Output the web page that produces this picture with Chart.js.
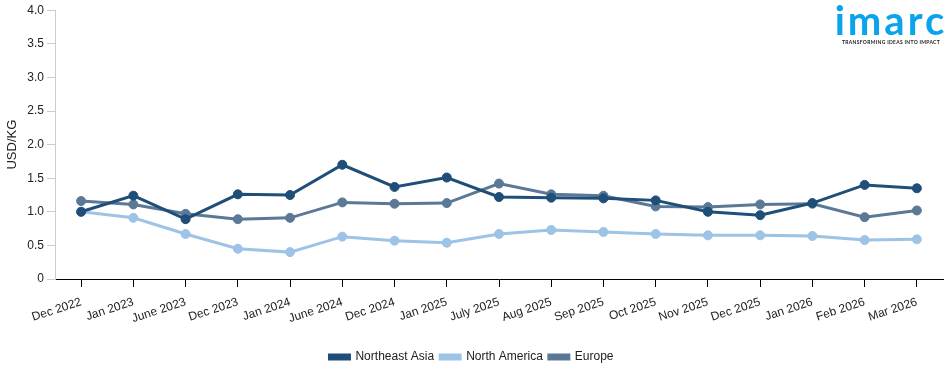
<!DOCTYPE html>
<html>
<head>
<meta charset="utf-8">
<script src="https://cdn.jsdelivr.net/npm/chart.js@4"></script>
<style>
  html, body { margin: 0; padding: 0; background: #fff; }
  #wrap { position: relative; width: 950px; height: 373px; }
  #logo { position: absolute; left: 834px; top: 2px; width: 114px; text-align: center; font-family: "Lato", "Liberation Sans", sans-serif; color: #0aa4ec; }
  #logo .name { font-size: 40px; font-weight: 700; line-height: 36px; letter-spacing: 3px; }
  #logo .tag { font-size: 5px; font-weight: 700; color: #222; letter-spacing: 0.3px; margin-top: 1px; white-space: nowrap; }
</style>
</head>
<body>
<div id="wrap">
  <canvas id="myChart" width="950" height="373"></canvas>
  <div id="logo"><div class="name">imarc</div><div class="tag">TRANSFORMING IDEAS INTO IMPACT</div></div>
</div>
<script>
const labels = ['Dec 2022', 'Jan 2023', 'June 2023', 'Dec 2023', 'Jan 2024', 'June 2024', 'Dec 2024', 'Jan 2025', 'July 2025', 'Aug 2025', 'Sep 2025', 'Oct 2025', 'Nov 2025', 'Dec 2025', 'Jan 2026', 'Feb 2026', 'Mar 2026'];
const northeastAsia = [1.00, 1.24, 0.89, 1.26, 1.25, 1.70, 1.37, 1.51, 1.22, 1.21, 1.20, 1.17, 1.00, 0.95, 1.13, 1.40, 1.35];
const northAmerica = [1.00, 0.91, 0.67, 0.45, 0.40, 0.63, 0.57, 0.54, 0.67, 0.73, 0.70, 0.67, 0.65, 0.65, 0.64, 0.58, 0.59];
const europe = [1.16, 1.11, 0.97, 0.89, 0.91, 1.14, 1.12, 1.13, 1.42, 1.26, 1.24, 1.08, 1.07, 1.11, 1.12, 0.92, 1.02];
const yTicks = [0, 0.5, 1.0, 1.5, 2.0, 2.5, 3.0, 3.5, 4.0];

function series(label, data, color) {
  return {
    label: label,
    data: data,
    borderColor: color,
    backgroundColor: color,
    borderWidth: 3,
    pointRadius: 4.5,
    pointBorderWidth: 1,
    pointHoverRadius: 4.5,
    tension: 0
  };
}

const ctx = document.getElementById('myChart');
new Chart(ctx, {
  type: 'line',
  data: {
    labels: labels,
    datasets: [
      series('Northeast Asia', northeastAsia, '#1f4e79'),
      series('North America', northAmerica, '#9dc3e6'),
      series('Europe', europe, '#5b7896')
    ]
  },
  options: {
    responsive: false,
    animation: false,
    layout: { padding: { top: 4, right: 7, left: 0, bottom: 0 } },
    plugins: {
      tooltip: { enabled: false },
      legend: {
        position: 'bottom',
        labels: {
          boxWidth: 20,
          boxHeight: 4,
          padding: 6,
          color: '#222',
          font: { family: 'Liberation Sans', size: 12 }
        }
      }
    },
    scales: {
      x: {
        offset: true,
        grid: { display: true, drawOnChartArea: false, drawTicks: true, tickLength: 8, color: '#000' },
        border: { color: '#000', width: 1 },
        ticks: {
          minRotation: 18,
          maxRotation: 18,
          autoSkip: false,
          padding: 8,
          color: '#222',
          font: { family: 'Liberation Sans', size: 12 }
        },
        afterFit: function (scale) { scale.height = 66; }
      },
      y: {
        min: 0,
        max: 4,
        afterBuildTicks: function (scale) { scale.ticks = yTicks.map(v => ({ value: v })); },
        grid: { display: true, drawOnChartArea: false, tickLength: 8, color: '#ccc' },
        border: { color: '#ccc', width: 1 },
        ticks: {
          color: '#222',
          font: { family: 'Liberation Sans', size: 12 },
          callback: function (v) { return v === 0 ? '0' : v.toFixed(1); }
        },
        title: {
          display: true,
          text: 'USD/KG',
          color: '#222',
          font: { family: 'Liberation Sans', size: 13 },
          padding: { top: 5, bottom: 2 }
        },
        afterFit: function (scale) { scale.width = 55; }
      }
    }
  }
});
</script>
</body>
</html>
